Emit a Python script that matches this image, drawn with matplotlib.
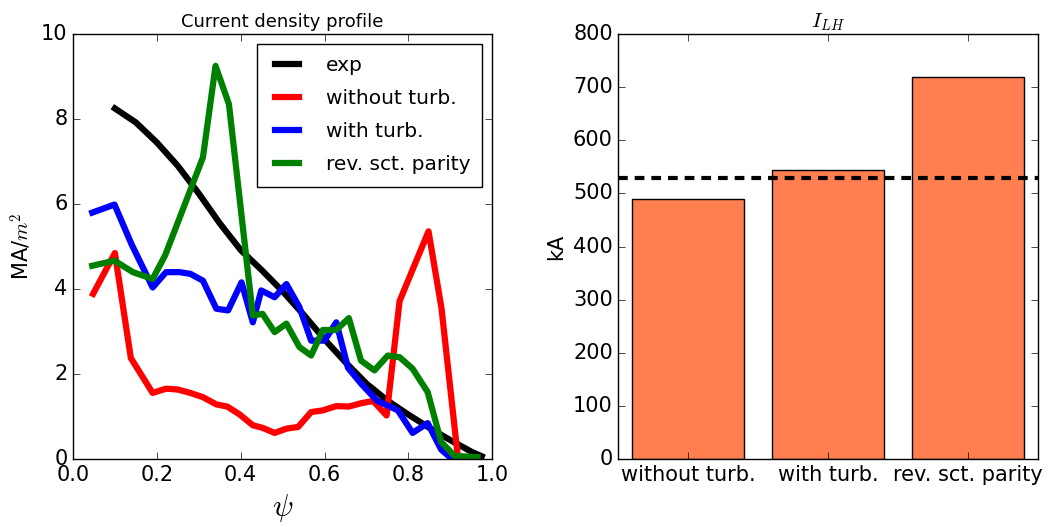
import numpy as np
import matplotlib
matplotlib.use('Agg')
from matplotlib import pyplot as plt

plt.style.use('classic')
plt.rcParams['figure.facecolor'] = 'white'
plt.rcParams['savefig.facecolor'] = 'white'

# current density profiles (MA/m^2) vs psi
psi_exp = [0.10, 0.15, 0.20, 0.25, 0.30, 0.35, 0.40, 0.45, 0.50, 0.55,
           0.60, 0.65, 0.70, 0.75, 0.80, 0.85, 0.90, 0.95, 0.975]
j_exp = [8.25, 7.92, 7.45, 6.90, 6.25, 5.55, 4.92, 4.45, 3.95, 3.40,
         2.82, 2.28, 1.78, 1.38, 1.05, 0.74, 0.45, 0.18, 0.07]

psi_noturb = [0.048, 0.100, 0.138, 0.190, 0.222, 0.250, 0.280, 0.310, 0.342, 0.368,
              0.398, 0.429, 0.452, 0.481, 0.509, 0.537, 0.568, 0.596, 0.628, 0.658,
              0.688, 0.716, 0.748, 0.779, 0.848, 0.879, 0.918, 0.935]
j_noturb = [3.89, 4.85, 2.38, 1.56, 1.66, 1.64, 1.56, 1.46, 1.29, 1.24,
            1.05, 0.80, 0.74, 0.62, 0.72, 0.76, 1.11, 1.15, 1.25, 1.24,
            1.32, 1.37, 1.03, 3.72, 5.36, 3.55, 0.05, -0.1]

psi_turb = [0.046, 0.099, 0.140, 0.190, 0.222, 0.254, 0.280, 0.310, 0.342, 0.370,
            0.402, 0.429, 0.449, 0.481, 0.509, 0.540, 0.568, 0.600, 0.628, 0.656,
            0.687, 0.725, 0.775, 0.810, 0.846, 0.878, 0.905, 0.930]
j_turb = [5.80, 5.99, 5.05, 4.04, 4.40, 4.40, 4.36, 4.20, 3.54, 3.50,
          4.16, 3.22, 3.97, 3.81, 4.12, 3.58, 2.79, 2.79, 3.22, 2.15,
          1.78, 1.38, 1.15, 0.62, 0.85, 0.23, 0.0, -0.1]

psi_rev = [0.046, 0.099, 0.143, 0.190, 0.220, 0.310, 0.340, 0.372, 0.429, 0.452,
           0.481, 0.509, 0.540, 0.568, 0.596, 0.628, 0.658, 0.687, 0.719, 0.751,
           0.779, 0.810, 0.846, 0.878, 0.910, 0.965]
j_rev = [4.55, 4.67, 4.40, 4.24, 4.80, 7.10, 9.25, 8.35, 3.38, 3.42,
         2.99, 3.19, 2.64, 2.44, 3.04, 3.04, 3.32, 2.32, 2.09, 2.44,
         2.40, 2.13, 1.58, 0.41, 0.08, 0.05]

# total LH current (kA)
cases = ['without turb.', 'with turb.', 'rev. sct. parity']
i_lh = [490, 545, 720]
i_lh_exp = 530

fig = plt.figure(figsize=(10.5, 5.27), dpi=100)
ax1 = fig.add_axes([0.0695, 0.1285, 0.3993, 0.807])
ax2 = fig.add_axes([0.5889, 0.1285, 0.3993, 0.807])

lw = 4.5
ax1.plot(psi_exp, j_exp, 'k', lw=lw, label='exp')
ax1.plot(psi_noturb, j_noturb, 'r', lw=lw, label='without turb.')
ax1.plot(psi_turb, j_turb, 'b', lw=lw, label='with turb.')
ax1.plot(psi_rev, j_rev, 'g', lw=lw, label='rev. sct. parity')
ax1.set_xlim(0, 1)
ax1.set_ylim(0, 10)
ax1.set_title('Current density profile', fontsize=13)
ax1.set_xlabel(r'$\psi$', fontsize=22)
ax1.set_ylabel(r'MA/$m^2$', fontsize=15)
leg = ax1.legend(loc='upper right', fontsize=14.5, handlelength=1.8,
                 handletextpad=1.0, labelspacing=0.7, borderpad=0.6)
leg.get_frame().set_linewidth(1.0)

x = np.arange(len(cases))
ax2.bar(x, i_lh, width=0.8, color='coral', edgecolor='k', linewidth=1, align='center')
ax2.axhline(i_lh_exp, color='k', lw=3, dashes=(7, 5))
ax2.set_xlim(-0.5, 2.5)
ax2.set_ylim(0, 800)
ax2.set_xticks(x)
ax2.set_xticklabels(cases)
ax2.set_title(r'$I_{LH}$', fontsize=15)
ax2.set_ylabel('kA', fontsize=15)

for ax in (ax1, ax2):
    ax.tick_params(labelsize=15, direction='in', length=5)

plt.savefig('out.png', dpi=100)
